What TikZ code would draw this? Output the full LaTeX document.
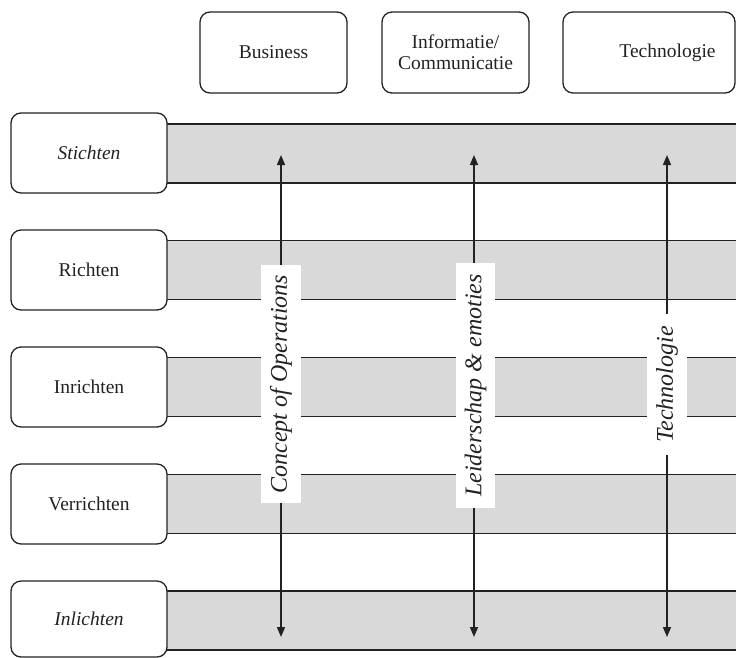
\documentclass[tikz,border=0pt]{standalone}
\usepackage{fontspec}
\setmainfont{Liberation Serif}
\usetikzlibrary{arrows.meta}
\definecolor{bandgray}{HTML}{D9D9D9}
\definecolor{inkc}{HTML}{222222}
\tikzset{
  rowbox/.style={draw=inkc, line width=1.3pt, rounded corners=10pt, fill=white,
    minimum width=156pt, minimum height=80pt, inner sep=0pt,
    font=\fontsize{19.5}{22}\selectfont, text=inkc},
  topbox/.style={draw=inkc, line width=1.3pt, rounded corners=10pt, fill=white,
    minimum width=147pt, minimum height=81pt, inner sep=0pt, align=center,
    font=\fontsize{19.5}{21}\selectfont, text=inkc},
  bandfill/.style={fill=bandgray},
  bandline/.style={draw=inkc, line width=1.3pt},
  flow/.style={draw=inkc, line width=1.5pt, {Triangle[length=10pt,width=8pt]}-{Triangle[length=10pt,width=8pt]}},
  vlabel/.style={fill=white, rotate=90, inner sep=0pt, minimum height=40pt,
    font=\fontsize{24}{26}\selectfont\itshape, text=inkc}
}
\begin{document}
\begin{tikzpicture}[x=1pt,y=-1pt]
\useasboundingbox (0,0) rectangle (736,657);
% bands
\foreach \c in {153.5,270,387,504,620.5}{
  \fill[bandfill] (160,\c-29.5) rectangle (740,\c+29.5);
  \draw[bandline] (160,\c-29.5) -- (740,\c-29.5);
  \draw[bandline] (160,\c+29.5) -- (740,\c+29.5);
}
% row boxes
\node[rowbox] (stichten) at (89,153) {\textit{Stichten}};
\node[rowbox] (richten) at (89,270) {Richten};
\node[rowbox] (inrichten) at (89,387) {Inrichten};
\node[rowbox] (verrichten) at (89,504) {Verrichten};
\node[rowbox, minimum height=76pt] (inlichten) at (89,619) {\textit{Inlichten}};
% top boxes
\node[topbox] (business) at (273.5,52.5) {Business};
\node[topbox] (info) at (455.5,52.5) {Informatie/\\Communicatie};
\node[topbox, minimum width=172pt] (techbox) at (649,52.5) {\hspace*{37pt}Technologie};
% arrows
\coordinate (a1top) at (281,155);
\coordinate (a1bot) at (281,637);
\coordinate (a2top) at (474,155);
\coordinate (a2bot) at (474,637);
\coordinate (a3top) at (667,155);
\coordinate (a3bot) at (667,637);
\draw[flow] (a1bot) -- (a1top);
\draw[flow] (a2bot) -- (a2top);
\draw[flow] (a3bot) -- (a3top);
% labels
\node[vlabel, minimum width=238pt] (concept) at (281,384) {Concept of Operations};
\node[vlabel, minimum width=245pt, minimum height=39pt] (leider) at (475.5,385.5) {Leiderschap \& emoties};
\node[vlabel, minimum width=141pt] (techlab) at (667,384.5) {Technologie};
\end{tikzpicture}
\end{document}
